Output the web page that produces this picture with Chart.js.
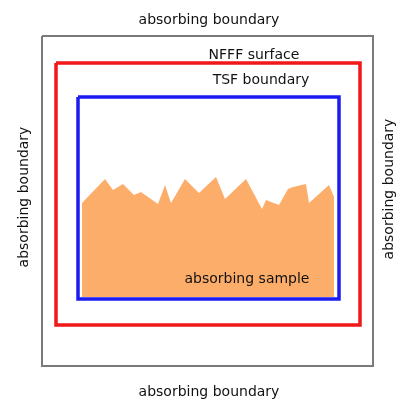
<!DOCTYPE html>
<html>
<head>
<meta charset="utf-8">
<script src="https://cdn.jsdelivr.net/npm/chart.js@4.4.0/dist/chart.umd.min.js"></script>
<style>
  html, body { margin: 0; padding: 0; background: #fff; }
  canvas { display: block; }
</style>
</head>
<body>
<canvas id="diagram" width="403" height="400"></canvas>
<script>
// diagram units: x 0..403, y 0..400 (y grows downward)
const outerBox = [[42, 36], [373, 36], [373, 366], [42, 366], [42, 36]];      // absorbing boundary
const nfffBox = [[56, 63], [360, 63], [360, 325], [56, 325], [56, 63]];       // NFFF surface
const tsfBox = [[78, 97], [339, 97], [339, 299], [78, 299], [78, 97]];        // TSF boundary

// rough surface of the sample
const surfaceX = [82, 105, 113, 123, 134, 141, 158, 165, 171, 185, 199, 216, 225, 246, 262, 266, 279, 288, 293, 306, 309, 329, 334];
const surfaceY = [203, 179, 190, 184, 195, 192, 204, 185, 203, 179, 193, 177, 199, 179, 209, 200, 205, 189, 187, 184, 203, 185, 197];
const sampleBottom = 297;

const labelTexts = ["absorbing boundary", "absorbing boundary", "absorbing boundary", "absorbing boundary",
    "NFFF surface", "TSF boundary", "absorbing sample"];
const labelAnchors = [[209, 20], [209, 392], [24, 197], [389, 189], [254, 55], [261, 80], [247, 279]];
const labelAngles = [0, 0, -90, -90, 0, 0, 0];

function toPoints(arr) {
    return arr.map(p => ({x: p[0], y: p[1]}));
}

const surface = surfaceX.map((x, i) => ({x: x, y: surfaceY[i]}));
// close down to the bottom of the sample
surface.unshift({x: surfaceX[0], y: sampleBottom});
surface.push({x: surfaceX[surfaceX.length - 1], y: sampleBottom});

const labelPlugin = {
    id: 'labels',
    afterDatasetsDraw(chart) {
        const ctx = chart.ctx;
        const xs = chart.scales.x;
        const ys = chart.scales.y;
        ctx.save();
        ctx.fillStyle = '#111';
        ctx.font = '14px "DejaVu Sans", sans-serif';
        ctx.textAlign = 'center';
        ctx.textBaseline = 'middle';
        labelTexts.forEach((t, i) => {
            const px = xs.getPixelForValue(labelAnchors[i][0]);
            const py = ys.getPixelForValue(labelAnchors[i][1]);
            ctx.save();
            ctx.translate(px, py);
            ctx.rotate(labelAngles[i] * Math.PI / 180);
            ctx.fillText(t, 0, 0);
            ctx.restore();
        });
        ctx.restore();
    }
};

const boxStyle = (color, width) => ({
    showLine: true,
    borderColor: color,
    borderWidth: width,
    pointRadius: 0,
    tension: 0,
    fill: false,
    borderJoinStyle: 'miter'
});

const ctx = document.getElementById('diagram').getContext('2d');
new Chart(ctx, {
    type: 'scatter',
    data: {
        datasets: [
            {
                data: surface,
                showLine: true,
                borderWidth: 0,
                borderColor: 'rgba(0,0,0,0)',
                backgroundColor: '#fdad6a',
                pointRadius: 0,
                tension: 0,
                fill: {value: sampleBottom},
                order: 4
            },
            Object.assign({data: toPoints(outerBox), order: 3}, boxStyle('#7a7a7a', 2)),
            Object.assign({data: toPoints(nfffBox), order: 2}, boxStyle('#f01818', 3.5)),
            Object.assign({data: toPoints(tsfBox), order: 1}, boxStyle('#1c1cf2', 3.5))
        ]
    },
    options: {
        responsive: false,
        animation: false,
        devicePixelRatio: 1,
        layout: {padding: 0},
        plugins: {legend: {display: false}, tooltip: {enabled: false}},
        scales: {
            x: {type: 'linear', min: 0, max: 403, display: false},
            y: {type: 'linear', min: 0, max: 400, reverse: true, display: false}
        }
    },
    plugins: [labelPlugin]
});
</script>
</body>
</html>
